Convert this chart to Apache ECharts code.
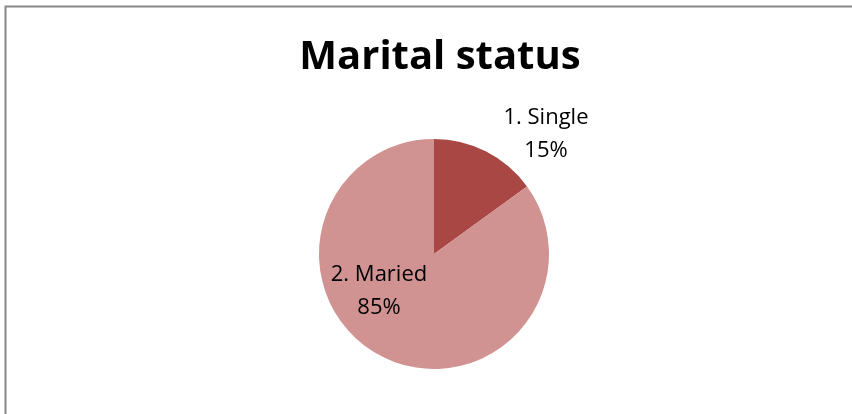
<!DOCTYPE html>
<html><head><meta charset="utf-8">
<script src="https://cdn.jsdelivr.net/npm/echarts@6/dist/echarts.min.js"></script>
<style>html,body{margin:0;padding:0;background:#fff}#c{width:852px;height:414px}</style>
</head><body><div id="c"></div>
<script>
const categories = ['1. Single', '2. Maried'];
const values = [15, 85];
const colors = ['#A84744', '#D19392'];
const labelPos = [[546, 134], [379, 291]];

const chart = echarts.init(document.getElementById('c'), null, {renderer: 'canvas'});
chart.setOption({
  backgroundColor: '#fff',
  animation: false,
  title: {
    text: 'Marital status', left: 435, top: 33, textAlign: 'center',
    textStyle: {fontFamily: 'Open Sans', fontWeight: 'bold', fontSize: 40, color: '#000'}
  },
  graphic: [{
    type: 'rect', shape: {x: 5.5, y: 6.5, width: 900, height: 500},
    style: {fill: 'none', stroke: '#888', lineWidth: 2}, silent: true
  }],
  series: [{
    type: 'pie', center: [434, 254], radius: 115, startAngle: 90, clockwise: true,
    data: categories.map((c, i) => ({name: c, value: values[i], itemStyle: {color: colors[i]}})),
    label: {
      show: true, position: 'inside', formatter: '{b}\n{d}%',
      fontFamily: 'Open Sans', fontSize: 22, lineHeight: 33, color: '#000', align: 'center'
    },
    labelLine: {show: false},
    labelLayout: function (p) {
      const pos = labelPos[p.dataIndex];
      return {x: pos[0], y: pos[1], align: 'center', verticalAlign: 'middle'};
    },
    emphasis: {disabled: true}
  }]
});
</script></body></html>
